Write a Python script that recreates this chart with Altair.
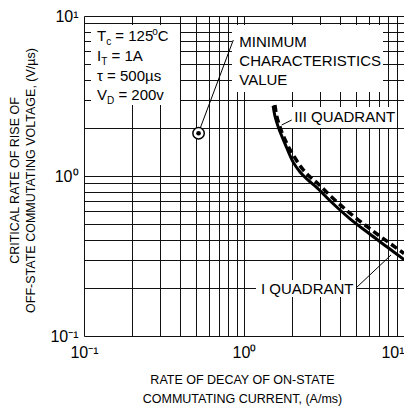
import altair as alt
import pandas as pd

FONT = "Liberation Sans"

# ---- data ----
solid_x = [1.52, 1.55, 1.585, 1.63, 1.68, 1.8, 2.02, 2.24, 2.5, 2.8, 3.5, 4.6, 6.0, 8.0, 10.0]
solid_y = [2.75, 2.45, 2.24, 2.05, 1.89, 1.60, 1.23, 1.06, 0.95, 0.86, 0.69, 0.54, 0.44, 0.355, 0.30]
dashed_x = [1.56, 1.59, 1.625, 1.67, 1.72, 1.85, 2.08, 2.3, 2.55, 2.85, 3.5, 4.6, 6.0, 8.0, 10.0]
dashed_y = [2.78, 2.45, 2.24, 2.05, 1.89, 1.60, 1.30, 1.12, 1.00, 0.91, 0.745, 0.585, 0.475, 0.385, 0.328]
marker_x = [0.52]
marker_y = [1.85]

tick_values = [round(m * 10 ** e, 6) for e in (-1, 0) for m in range(1, 10)] + [10.0]
decade_labels = ["10⁻¹", "10⁰", "10¹"]

x_title = ["RATE OF DECAY OF ON-STATE", "COMMUTATING CURRENT, (A/ms)"]
y_title = ["CRITICAL RATE OF RISE OF", "OFF-STATE COMMUTATING VOLTAGE, (V/µs)"]

# legend lines: (text, kind) kind: n=normal, sub=subscript, sup=superscript
legend_lines = [
    [("T", "n"), ("c", "sub"), (" = 125", "n"), ("o", "sup"), ("C", "n")],
    [("I", "n"), ("T", "sub"), (" = 1A", "n")],
    [("τ = 500µs", "n")],
    [("V", "n"), ("D", "sub"), (" = 200v", "n")],
]
min_char_lines = ["MINIMUM", "CHARACTERISTICS", "VALUE"]
q3_label = "III QUADRANT"
q1_label = "I QUADRANT"

# ---- layout helpers ----
W = {"T": .611, "c": .5, " ": .278, "=": .584, "1": .556, "2": .556, "5": .556,
     "0": .556, "o": .556, "C": .722, "I": .278, "A": .667, "V": .667, "D": .722,
     "v": .5, "s": .5, "µ": .576, "τ": .45}


def tw(s, size):
    return sum(W.get(ch, .6) for ch in s) * size


one = pd.DataFrame({"k": [0]})


def box(x1, y1, x2, y2):
    return alt.Chart(one).mark_rect(fill="white", opacity=1).encode(
        x=alt.value(x1), x2=alt.value(x2), y=alt.value(y1), y2=alt.value(y2))


def txt(t, x, y, size=15):
    return alt.Chart(one).mark_text(
        text=t, align="left", baseline="alphabetic", fontSize=size, font=FONT,
        color="black").encode(x=alt.value(x), y=alt.value(y))


def leader(x1, y1, x2, y2):
    return alt.Chart(one).mark_rule(color="black", strokeWidth=1).encode(
        x=alt.value(x1), y=alt.value(y1), x2=alt.value(x2), y2=alt.value(y2))


label_expr = ("abs(datum.value-0.1)<1e-6 ? '%s' : abs(datum.value-1)<1e-6 ? '%s' : "
              "abs(datum.value-10)<1e-6 ? '%s' : ''") % tuple(decade_labels)

xscale = alt.Scale(type="log", domain=[0.1, 10], nice=False)
yscale = alt.Scale(type="log", domain=[0.1, 10], nice=False)

xaxis = alt.Axis(values=tick_values, labelExpr=label_expr, grid=True, ticks=False,
                 domain=False, labelFontSize=16, labelPadding=8, labelFlush=False,
                 labelAlign={"expr": "datum.value > 9.5 ? 'right' : 'center'"},
                 labelOverlap=False, labelFont=FONT, labelColor="black",
                 title=x_title, titleFont=FONT, titleFontSize=12.5,
                 titleFontWeight="normal", titleColor="black",
                 titleX=158, titleY=37, titleBaseline="top", titleLineHeight=19.3,
                 gridColor="#111111", gridWidth=1, gridOpacity=1)
yaxis = alt.Axis(values=tick_values, labelExpr=label_expr, grid=True, ticks=False,
                 domain=False, labelFontSize=16, labelPadding=6, labelFlush=False,
                 labelOverlap=False, labelFont=FONT, labelColor="black",
                 title=y_title, titleFont=FONT, titleFontSize=12.5,
                 titleFontWeight="normal", titleColor="black",
                 titleX=-75.5, titleY=164, titleAngle=270, titleBaseline="top",
                 titleLineHeight=16, gridColor="#111111", gridWidth=1, gridOpacity=1)

solid_df = pd.DataFrame({"x": solid_x, "y": solid_y})
dashed_df = pd.DataFrame({"x": dashed_x, "y": dashed_y})
marker_df = pd.DataFrame({"x": marker_x, "y": marker_y})

base_solid = alt.Chart(solid_df).mark_line(color="black", strokeWidth=3, clip=True,
                                           interpolate="monotone").encode(
    x=alt.X("x:Q", scale=xscale, axis=xaxis),
    y=alt.Y("y:Q", scale=yscale, axis=yaxis),
)
dashed = alt.Chart(dashed_df).mark_line(color="black", strokeWidth=3.5, strokeDash=[7, 4],
                                        clip=True, interpolate="monotone").encode(
    x=alt.X("x:Q", scale=xscale), y=alt.Y("y:Q", scale=yscale))

marker_leader = leader(114.3, 117.3, 149.3, 24)
marker_ring = alt.Chart(marker_df).mark_circle(fill="white", stroke="black", strokeWidth=1.5,
                                               size=130, opacity=1).encode(
    x=alt.X("x:Q", scale=xscale), y=alt.Y("y:Q", scale=yscale))
marker_dot = alt.Chart(marker_df).mark_circle(color="black", size=22, opacity=1).encode(
    x=alt.X("x:Q", scale=xscale), y=alt.Y("y:Q", scale=yscale))

layers = [base_solid, dashed]

# legend box
layers.append(box(7, 9, 96, 89))
baselines = [25, 45, 65, 83.5]
for line, yb in zip(legend_lines, baselines):
    xcur = 13
    for t, kind in line:
        size = 15 if kind == "n" else 10
        lead = len(t) - len(t.lstrip(" "))
        xcur += lead * W[" "] * size
        t = t.lstrip(" ")
        if kind == "n":
            layers.append(txt(t, xcur, yb, size))
            xcur += tw(t, size)
        elif kind == "sub":
            layers.append(txt(t, xcur, yb + 4, size))
            xcur += tw(t, size)
        else:
            layers.append(txt(t, xcur - 1, yb - 6, size))
            xcur += tw(t, size) - 1

# minimum characteristics label
layers.append(box(148, 9, 299, 76))
for t, yb in zip(min_char_lines, [31, 49.5, 68.7]):
    layers.append(txt(t, 155.3, yb, 15))

# III quadrant
layers.append(box(207, 91, 308, 112))
layers.append(txt(q3_label, 210.3, 106, 15))
layers.append(leader(197.7, 109, 207.7, 104))

# I quadrant
layers.append(box(172, 264, 272, 281))
layers.append(txt(q1_label, 177, 277.7, 15))
layers.append(leader(272, 272, 307, 239))

layers += [marker_leader, marker_ring, marker_dot]

chart = alt.layer(*layers).properties(
    width=320, height=320,
    autosize=alt.AutoSizeParams(type="none"),
    padding={"left": 76, "top": 8, "right": 0, "bottom": 72},
).configure_view(stroke="black", strokeWidth=2).configure(font=FONT)

chart.save("out.html", embed_options={"renderer": "svg", "actions": False})
